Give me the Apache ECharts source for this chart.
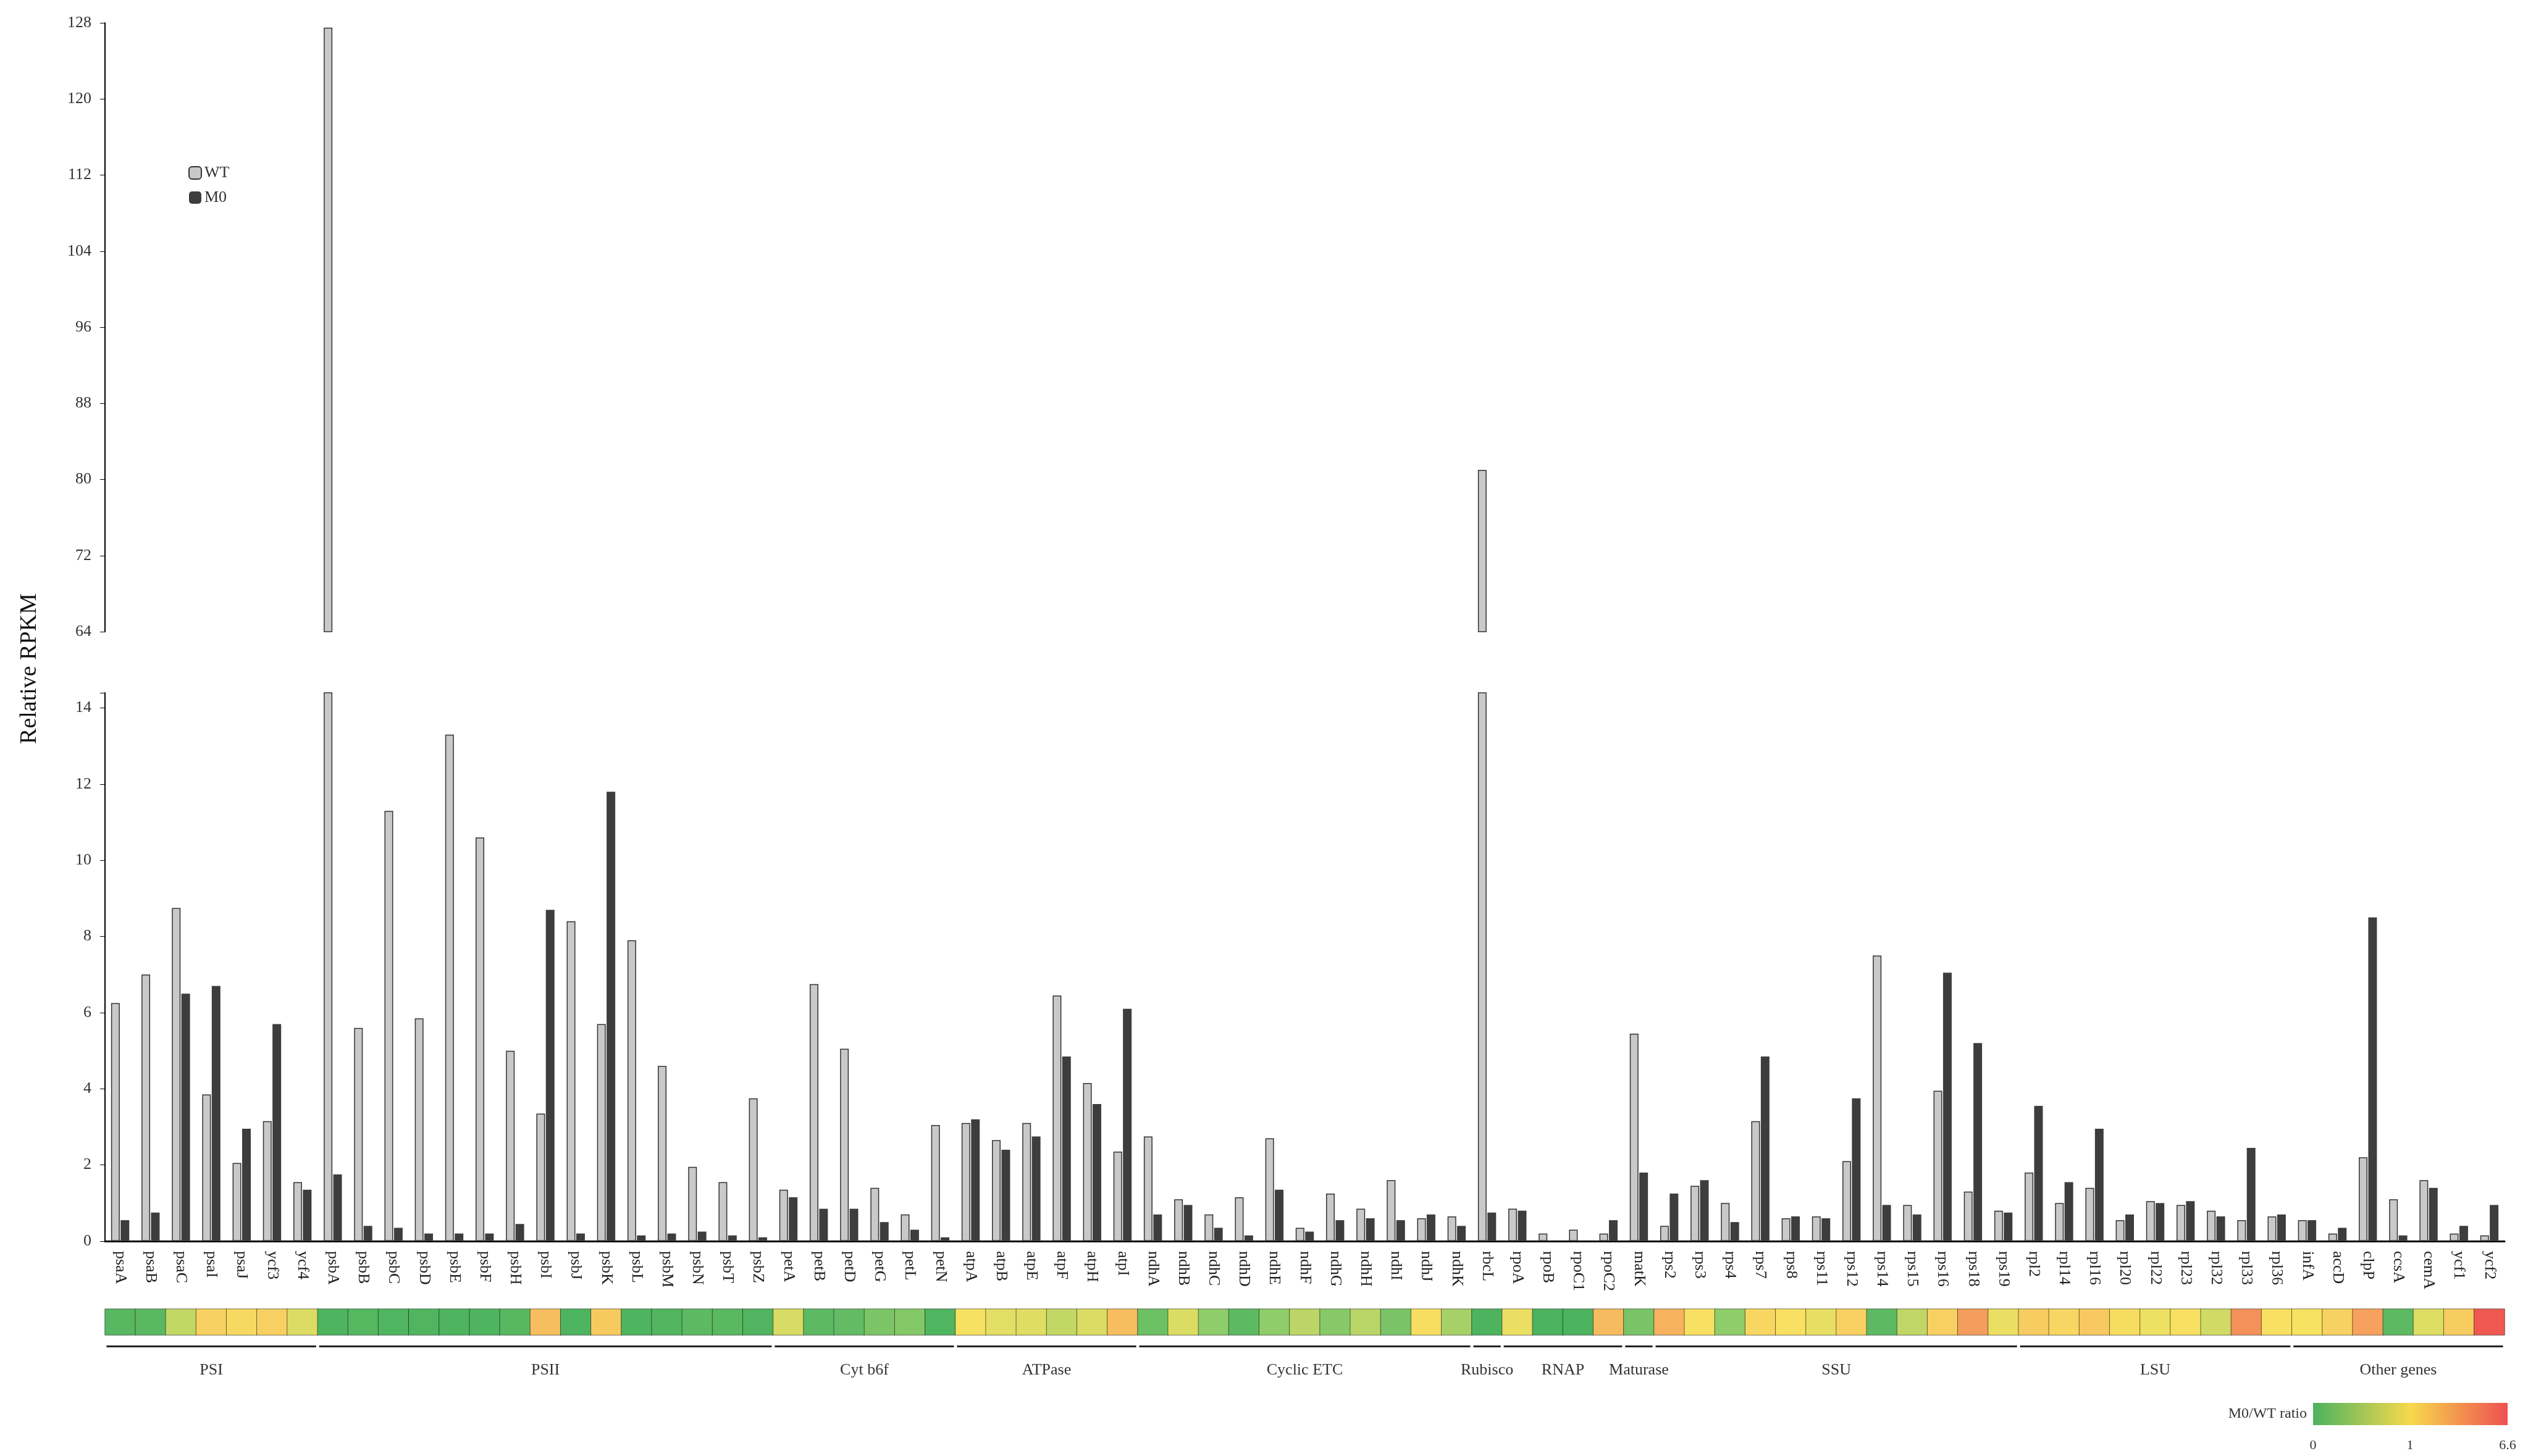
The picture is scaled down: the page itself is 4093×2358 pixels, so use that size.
<!DOCTYPE html>
<html><head><meta charset="utf-8">
<script src="https://cdn.jsdelivr.net/npm/echarts@6/dist/echarts.min.js"></script>
<style>html,body{margin:0;background:#fff}#c{width:4093px;height:2358px}</style>
</head><body><div id="c"></div>
<script>
const genes = ['psaA','psaB','psaC','psaI','psaJ','ycf3','ycf4',
 'psbA','psbB','psbC','psbD','psbE','psbF','psbH','psbI','psbJ','psbK','psbL','psbM','psbN','psbT','psbZ',
 'petA','petB','petD','petG','petL','petN',
 'atpA','atpB','atpE','atpF','atpH','atpI',
 'ndhA','ndhB','ndhC','ndhD','ndhE','ndhF','ndhG','ndhH','ndhI','ndhJ','ndhK',
 'rbcL',
 'rpoA','rpoB','rpoC1','rpoC2',
 'matK',
 'rps2','rps3','rps4','rps7','rps8','rps11','rps12','rps14','rps15','rps16','rps18','rps19',
 'rpl2','rpl14','rpl16','rpl20','rpl22','rpl23','rpl32','rpl33','rpl36',
 'infA','accD','clpP','ccsA','cemA','ycf1','ycf2'];
const wt = [6.25,7.0,8.75,3.85,2.05,3.15,1.55,
 127.5,5.6,11.3,5.85,13.3,10.6,5.0,3.35,8.4,5.7,7.9,4.6,1.95,1.55,3.75,
 1.35,6.75,5.05,1.4,0.7,3.05,
 3.1,2.65,3.1,6.45,4.15,2.35,
 2.75,1.1,0.7,1.15,2.7,0.35,1.25,0.85,1.6,0.6,0.65,
 81.0,
 0.85,0.2,0.3,0.2,
 5.45,
 0.4,1.45,1.0,3.15,0.6,0.65,2.1,7.5,0.95,3.95,1.3,0.8,
 1.8,1.0,1.4,0.55,1.05,0.95,0.8,0.55,0.65,
 0.55,0.2,2.2,1.1,1.6,0.2,0.15];
const m0 = [0.55,0.75,6.5,6.7,2.95,5.7,1.35,
 1.75,0.4,0.35,0.2,0.2,0.2,0.45,8.7,0.2,11.8,0.15,0.2,0.25,0.15,0.1,
 1.15,0.85,0.85,0.5,0.3,0.1,
 3.2,2.4,2.75,4.85,3.6,6.1,
 0.7,0.95,0.35,0.15,1.35,0.25,0.55,0.6,0.55,0.7,0.4,
 0.75,
 0.8,0.0,0.0,0.55,
 1.8,
 1.25,1.6,0.5,4.85,0.65,0.6,3.75,0.95,0.7,7.05,5.2,0.75,
 3.55,1.55,2.95,0.7,1.0,1.05,0.65,2.45,0.7,
 0.55,0.35,8.5,0.15,1.4,0.4,0.95];
const groupNames = ['PSI','PSII','Cyt b6f','ATPase','Cyclic ETC','Rubisco','RNAP','Maturase','SSU','LSU','Other genes'];
const groupSizes = [7,15,6,6,11,1,4,1,12,9,7];
const yUpperTicks = [64,128,8];
const yLowerTicks = [0,14,2];

const ratio = wt.map((w,i)=> w>0 ? m0[i]/w : 0);
const heat = ratio.map((r,i)=>[i,0, r<=1 ? r : 1 + (r-1)/5.6]);
let s=0; const groups = groupNames.map((n,k)=>{const g=[s, s+groupSizes[k]-1, n]; s+=groupSizes[k]; return g;});

const F = 'Liberation Serif';
const L = 170, R = 38;
const catAxis = (gi, show) => ({type:'category', gridIndex:gi, data:genes, boundaryGap:true,
  axisLine:{show:show, lineStyle:{color:'#000',width:3}}, axisTick:{show:false},
  axisLabel:{show:gi===1, rotate:-90, fontFamily:F, fontSize:26, color:'#222', margin:16}});
const yStyle = {axisLine:{show:true,lineStyle:{color:'#000',width:2}}, axisTick:{show:true,length:8,lineStyle:{color:'#000'}},
  axisLabel:{fontFamily:F,fontSize:26,color:'#333',margin:22}, splitLine:{show:false}};

const chart = echarts.init(document.getElementById('c'));
chart.setOption({
  animation:false,
  grid:[
    {left:L,right:R,top:37,height:986},
    {left:L,right:R,top:1122,height:888},
    {left:L,right:R,top:2120,height:42},
    {left:L,right:R,top:2170,height:70}
  ],
  legend:{left:300,top:262,orient:'vertical',itemWidth:20,itemHeight:20,itemGap:14,
    textStyle:{fontFamily:F,fontSize:26,color:'#333'},data:['WT','M0']},
  xAxis:[catAxis(0,false),catAxis(1,true),
    {type:'category',gridIndex:2,data:genes,show:false},
    {type:'value',gridIndex:3,min:-0.5,max:genes.length-0.5,show:false}],
  yAxis:[
    Object.assign({type:'value',gridIndex:0,min:yUpperTicks[0],max:yUpperTicks[1],interval:yUpperTicks[2]},yStyle),
    Object.assign({type:'value',gridIndex:1,min:yLowerTicks[0],max:14.4,interval:yLowerTicks[2]},yStyle,
      {axisLabel:Object.assign({},yStyle.axisLabel,{formatter:v=>v<=14?v:''})}),
    {type:'category',gridIndex:2,data:['r'],show:false},
    {type:'value',gridIndex:3,min:0,max:1,show:false}
  ],
  visualMap:{show:false,seriesIndex:4,min:0,max:2,dimension:2,
    inRange:{color:['#4cb35f','#8fcc6a','#f7e262','#f6a35d','#ee5050']}},
  series:[
    {name:'WT',type:'bar',xAxisIndex:0,yAxisIndex:0,data:wt.map(v=>v>64?v:null),barWidth:14,barGap:'10%',
      itemStyle:{color:'#c9c9c9',borderColor:'#333',borderWidth:1.5}},
    {name:'M0',type:'bar',xAxisIndex:0,yAxisIndex:0,data:m0.map(v=>v>64?v:null),barWidth:14,
      itemStyle:{color:'#3d3d3d'}},
    {name:'WT',type:'bar',xAxisIndex:1,yAxisIndex:1,data:wt,barWidth:14,barGap:'10%',
      itemStyle:{color:'#c9c9c9',borderColor:'#333',borderWidth:1.5}},
    {name:'M0',type:'bar',xAxisIndex:1,yAxisIndex:1,data:m0,barWidth:14,
      itemStyle:{color:'#3d3d3d'}},
    {type:'heatmap',xAxisIndex:2,yAxisIndex:2,data:heat,itemStyle:{borderColor:'rgba(0,0,0,0.5)',borderWidth:1}},
    {type:'custom',xAxisIndex:3,yAxisIndex:3,data:groups,renderItem:(p,api)=>{
      const a=api.coord([api.value(0)-0.45,0.85]), b=api.coord([api.value(1)+0.45,0.85]);
      const m=api.coord([(api.value(0)+api.value(1))/2,0.3]);
      return {type:'group',children:[
        {type:'line',shape:{x1:a[0],y1:a[1],x2:b[0],y2:b[1]},style:{stroke:'#222',lineWidth:3}},
        {type:'text',style:{text:groups[p.dataIndex][2],x:m[0],y:m[1],align:'center',verticalAlign:'middle',
          font:'26px "Liberation Serif"',fill:'#333'}}]};
    }}
  ],
  graphic:[
    {type:'text',x:48,y:1083,rotation:Math.PI/2,style:{text:'Relative RPKM',font:'38px "Liberation Serif"',fill:'#111',align:'center',verticalAlign:'middle'}},
    {type:'rect',shape:{x:3745,y:2272,width:315,height:36},style:{fill:new echarts.graphic.LinearGradient(0,0,1,0,[
      {offset:0,color:'#4cb35f'},{offset:0.5,color:'#f7d94c'},{offset:1,color:'#ee5050'}])}},
    {type:'text',x:3735,y:2290,style:{text:'M0/WT ratio',font:'24px "Liberation Serif"',fill:'#333',align:'right',verticalAlign:'middle'}},
    {type:'text',x:3745,y:2330,style:{text:'0',font:'22px "Liberation Serif"',fill:'#333',align:'center'}},
    {type:'text',x:3902,y:2330,style:{text:'1',font:'22px "Liberation Serif"',fill:'#333',align:'center'}},
    {type:'text',x:4060,y:2330,style:{text:'6.6',font:'22px "Liberation Serif"',fill:'#333',align:'center'}}
  ]
});
</script></body></html>
